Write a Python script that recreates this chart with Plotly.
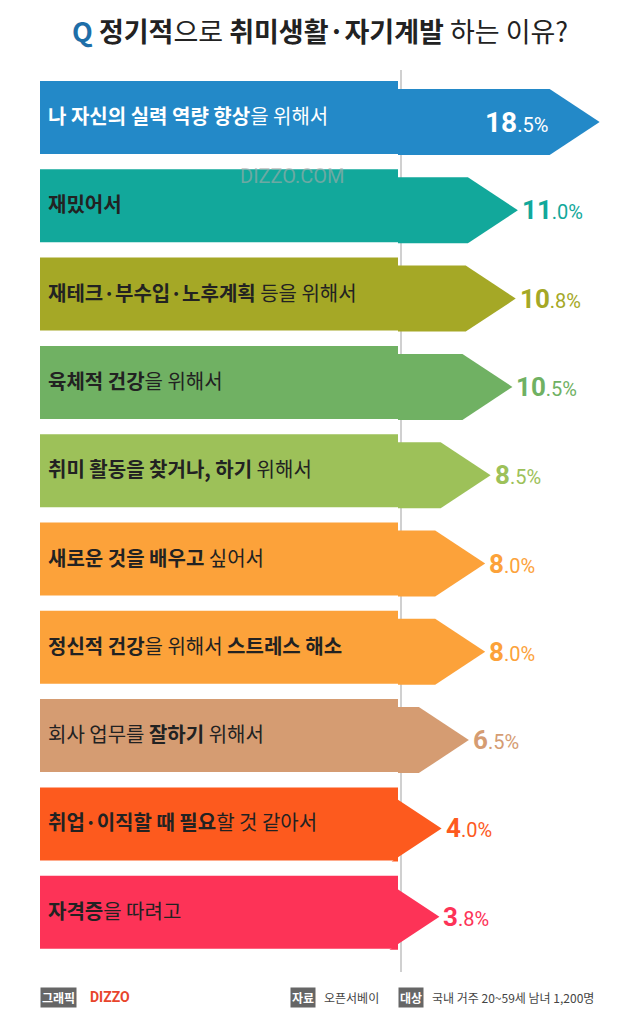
import plotly.graph_objects as go

labels = [
    "<b>나 자신의 실력 역량 향상</b>을 위해서",
    "<b>재밌어서</b>",
    "<b>재테크·부수입·노후계획</b> 등을 위해서",
    "<b>육체적 건강</b>을 위해서",
    "<b>취미 활동을 찾거나, 하기</b> 위해서",
    "<b>새로운 것을 배우고</b> 싶어서",
    "<b>정신적 건강</b>을 위해서 <b>스트레스 해소</b>",
    "회사 업무를 <b>잘하기</b> 위해서",
    "<b>취업·이직할 때 필요</b>할 것 같아서",
    "<b>자격증</b>을 따려고",
]
values = [18.5, 11.0, 10.8, 10.5, 8.5, 8.0, 8.0, 6.5, 4.0, 3.8]
colors = ["#2389c8", "#12a89b", "#a5a826", "#70b163", "#9dc159",
          "#fca23a", "#fca23a", "#d59c72", "#fd5a1e", "#fd3357"]

W, H = 640, 1016
OFF = 8                   # page body margin
FONT = "Noto Sans CJK KR"
X0, XB = 40, 398          # label box left / arrow base
PX_PER = 10.9             # px per percent
TIP = 50                  # arrow head length
top0, pitch = 81, 88.3

fig = go.Figure()

# divider line
fig.add_shape(type="line", x0=XB + 3, x1=XB + 3, y0=70, y1=972,
              line=dict(color="#d0d0d0", width=2), layer="below")

for i, (lab, v, c) in enumerate(zip(labels, values, colors)):
    yt = top0 + i * pitch
    yb = yt + 73
    # label box
    fig.add_trace(go.Scatter(x=[X0, XB, XB, X0, X0], y=[yt, yt, yb, yb, yt],
                             fill="toself", fillcolor=c, mode="none",
                             hoverinfo="skip", showlegend=False))
    # arrow
    at, ab = yt + 8, yt + 74
    tip = XB + PX_PER * v
    sh = tip - TIP
    am = (at + ab) / 2
    fig.add_trace(go.Scatter(x=[XB, sh, tip, sh, XB, XB], y=[at, at, am, ab, ab, at],
                             fill="toself", fillcolor=c, mode="none",
                             hoverinfo="skip", showlegend=False))
    txt_col = "white" if i == 0 else "#222222"
    fig.add_annotation(x=X0 + 6, y=(yt + yb) / 2 - 2, text=lab, showarrow=False,
                       xanchor="left", font=dict(family=FONT, size=20, color=txt_col))
    whole, frac = f"{v:.1f}".split(".")
    vtxt = f"<b>{whole}</b><span style='font-size:20px'>.{frac}%</span>"
    if i == 0:
        fig.add_annotation(x=tip - 50, y=am, text=vtxt, showarrow=False, xanchor="right",
                           font=dict(family="Roboto", size=28, color="white"))
    else:
        fig.add_annotation(x=tip + 2, y=am, text=vtxt, showarrow=False, xanchor="left",
                           font=dict(family="Roboto", size=26, color=c))

# watermark
fig.add_annotation(x=292, y=176, text="DIZZO.COM", showarrow=False,
                   font=dict(family="Roboto", size=20, color="rgba(170,170,170,0.6)"))

# title
fig.add_annotation(x=320, y=30, showarrow=False,
                   text="<b><span style='color:#1e6ea8'>Q</span> 정기적</b>으로 <b>취미생활·자기계발</b> 하는 이유?",
                   font=dict(family=FONT, size=27, color="#222222"))

# footer
def tag(x, y, t):
    fig.add_annotation(x=x, y=y, text=t, showarrow=False, xanchor="left",
                       bgcolor="#666666", borderpad=1,
                       font=dict(family=FONT, size=12, color="white"))

tag(40, 997, "<b>그래픽</b>")
fig.add_annotation(x=88, y=997, text="<b>DIZZO</b>", showarrow=False, xanchor="left",
                   font=dict(family="Roboto", size=14, color="#e8452c"))
tag(290, 997, "<b>자료</b>")
fig.add_annotation(x=322, y=997, text="오픈서베이", showarrow=False, xanchor="left",
                   font=dict(family=FONT, size=12, color="#444444"))
tag(398, 997, "<b>대상</b>")
fig.add_annotation(x=430, y=997, text="국내 거주 20~59세 남녀 1,200명", showarrow=False,
                   xanchor="left", font=dict(family=FONT, size=12, color="#444444"))

fig.update_xaxes(range=[OFF, W + OFF], visible=False, fixedrange=True)
fig.update_yaxes(range=[H + OFF, OFF], visible=False, fixedrange=True)
fig.update_layout(width=W, height=H, margin=dict(l=0, r=0, t=0, b=0),
                  plot_bgcolor="white", paper_bgcolor="white")
fig.write_html("out.html")
